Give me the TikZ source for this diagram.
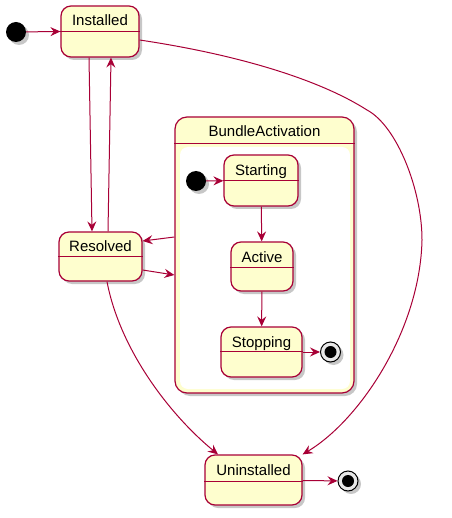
\documentclass[tikz,border=0pt]{standalone}
\usepackage{fontspec}
\setmainfont{Liberation Sans}
\usetikzlibrary{arrows.meta,shadows}
\definecolor{ured}{HTML}{A80036}
\definecolor{ucream}{HTML}{FEFECE}
\begin{document}
\begin{tikzpicture}[x=1pt,y=1pt,
  shd/.style={drop shadow={shadow xshift=3pt,shadow yshift=-3pt,fill=black,opacity=0.22}},
  state/.style={draw=ured, fill=ucream, line width=1.2pt, rounded corners=10pt, inner sep=0pt, shd},
  lbl/.style={font=\fontsize{15}{18}\selectfont, anchor=base, inner sep=0pt},
  divider/.style={draw=ured, line width=1.2pt},
  edge/.style={draw=ured, line width=1pt, -{Stealth[length=10pt,width=9pt,inset=3.5pt]}},
  startst/.style={circle, fill=black, minimum size=20pt, inner sep=0pt, shd},
  endst/.style={circle, draw=black, line width=1pt, fill=gray!18, minimum size=20pt, inner sep=0pt, shd},
]
\useasboundingbox (0,0) rectangle (451,-518);

% initial
\node[startst] (init) at (16,-32) {};

% Installed
\node[state, minimum width=78pt, minimum height=51pt,
  label={[lbl, yshift=-20.5pt]north:Installed}] (inst) at (100,-31.5) {};
\draw[divider] ([yshift=-26.5pt]inst.north west) -- ([yshift=-26.5pt]inst.north east);

% Resolved
\node[state, minimum width=83pt, minimum height=49pt,
  label={[lbl, yshift=-20.5pt]north:Resolved}] (res) at (100.5,-256.5) {};
\draw[divider] ([yshift=-25pt]res.north west) -- ([yshift=-25pt]res.north east);

% Composite BundleActivation
\node[state, rounded corners=12pt, minimum width=179pt, minimum height=276pt,
  label={[lbl, yshift=-20pt]north:BundleActivation}] (ba) at (264.5,-255) {};
\fill[white, rounded corners=8pt] (180,-147) rectangle (350,-389);
\draw[divider] ([yshift=-27pt]ba.north west) -- ([yshift=-27pt]ba.north east);

\node[startst] (init2) at (196,-181) {};

\node[state, minimum width=74pt, minimum height=51pt,
  label={[lbl, yshift=-21pt]north:Starting}] (start) at (261,-180.5) {};
\draw[divider] ([yshift=-26pt]start.north west) -- ([yshift=-26pt]start.north east);

\node[state, minimum width=62pt, minimum height=49pt,
  label={[lbl, yshift=-21pt]north:Active}] (act) at (262,-266.5) {};
\draw[divider] ([yshift=-26pt]act.north west) -- ([yshift=-26pt]act.north east);

\node[state, minimum width=81pt, minimum height=50pt,
  label={[lbl, yshift=-21pt]north:Stopping}] (stop) at (261.5,-352) {};
\draw[divider] ([yshift=-25pt]stop.north west) -- ([yshift=-25pt]stop.north east);

\node[endst] (fin1) at (330.5,-352) {};
\fill[black] (fin1.center) circle (6pt);

% Uninstalled
\node[state, minimum width=97pt, minimum height=50pt,
  label={[lbl, yshift=-21pt]north:Uninstalled}] (unin) at (253.5,-480) {};
\draw[divider] ([yshift=-27pt]unin.north west) -- ([yshift=-27pt]unin.north east);

\node[endst] (fin2) at (348,-481) {};
\fill[black] (fin2.center) circle (6pt);

% edges
\draw[edge] (init) -- (inst.west);
\draw[edge] ([xshift=-11pt]inst.south) -- ([xshift=-8.5pt]res.north);
\draw[edge] ([xshift=7.5pt]res.north) -- ([xshift=11pt]inst.south);
\draw[edge] ([yshift=-8.5pt]inst.east) .. controls (240,-55) and (320,-80) .. (367,-110)
  .. controls (397,-126) and (422,-190) .. (422,-240)
  .. controls (420,-330) and (360,-420) .. (unin.north east);
\draw[edge] ([yshift=18pt]ba.west) -- ([yshift=15.5pt]res.east);
\draw[edge] ([yshift=-13.5pt]res.east) -- ([yshift=-20pt]ba.west);
\draw[edge] ([xshift=6.5pt]res.south) .. controls (120,-350) and (170,-415) .. ([xshift=-35.5pt]unin.north);
\draw[edge] (init2) -- (start);
\draw[edge] (start) -- (act);
\draw[edge] (act) -- (stop);
\draw[edge] (stop) -- (fin1);
\draw[edge] (unin) -- (fin2);
\end{tikzpicture}
\end{document}
